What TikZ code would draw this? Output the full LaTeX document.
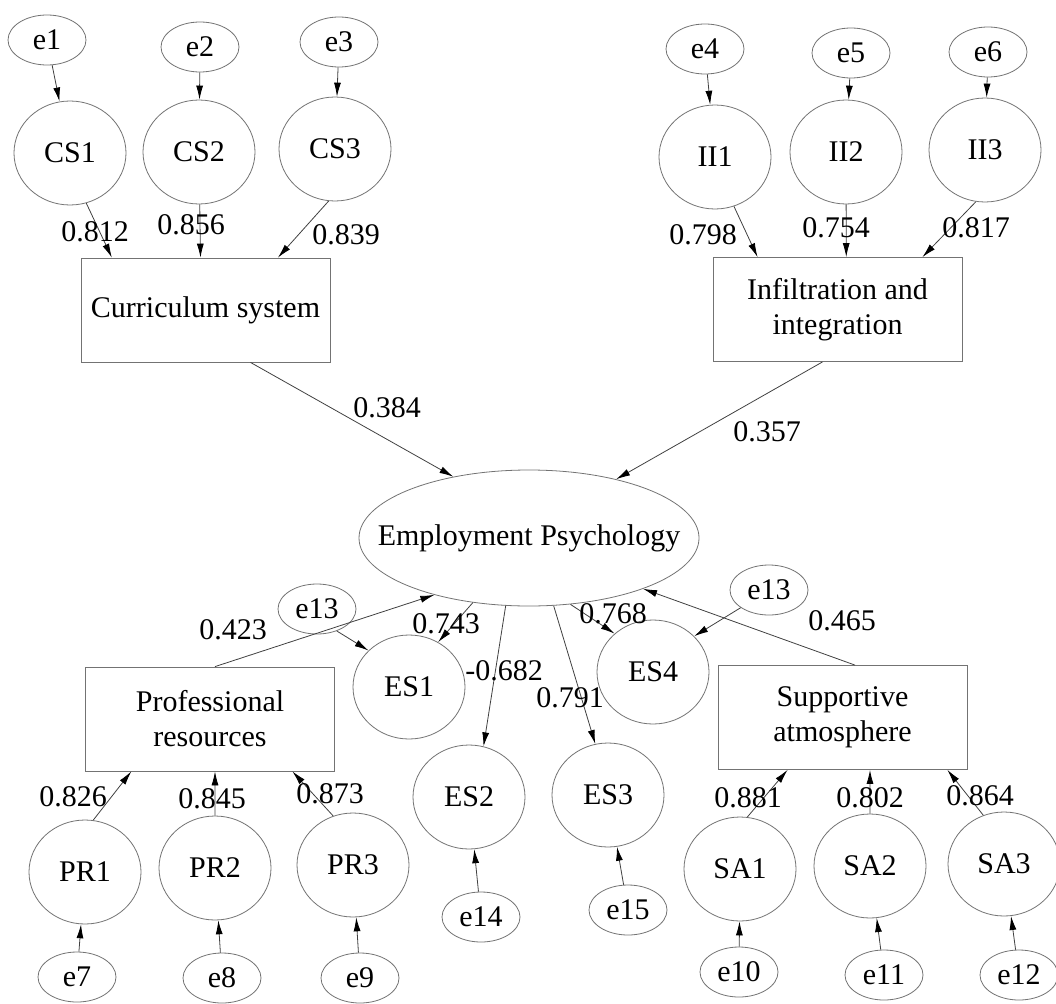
\documentclass[tikz,border=0pt]{standalone}
\usepackage{fontspec}
\setmainfont{Liberation Serif}
\usetikzlibrary{shapes.geometric,arrows.meta,calc}
\begin{document}
\begin{tikzpicture}[x=1pt,y=-1pt,
  every node/.style={font=\fontsize{30}{35}\selectfont},
  err/.style={ellipse,draw=black!55,line width=0.8pt,minimum width=78pt,minimum height=50pt,inner sep=0pt},
  obs/.style={ellipse,draw=black!55,line width=0.8pt,minimum width=112pt,minimum height=104pt,inner sep=0pt},
  lat/.style={rectangle,draw=black!55,line width=0.8pt,minimum width=249pt,minimum height=104pt,inner sep=0pt,align=center},
  mainlat/.style={ellipse,draw=black!55,line width=0.8pt,minimum width=340pt,minimum height=136pt,inner sep=0pt},
  arr/.style={draw=black!75,line width=0.8pt,-{Latex[length=14pt,width=7pt,color=black]}},
  lbl/.style={inner sep=0pt}
]
\useasboundingbox (0,0) rectangle (1056,1003);

% ---- top left
\node[err] (e1) at (47,40) {e1};
\node[err] (e2) at (200,47) {e2};
\node[err] (e3) at (339,42) {e3};
\node[obs] (cs1) at (70,153) {CS1};
\node[obs] (cs2) at (199,152) {CS2};
\node[obs] (cs3) at (335,149) {CS3};
\node[lat] (cs) at (205.5,310) {Curriculum system};

% ---- top right
\node[err] (e4) at (705,49) {e4};
\node[err] (e5) at (851,53) {e5};
\node[err] (e6) at (988,52) {e6};
\node[obs] (ii1) at (715,157) {II1};
\node[obs] (ii2) at (846,152) {II2};
\node[obs] (ii3) at (985,150) {II3};
\node[lat] (ii) at (837.5,309.5) {Infiltration and\\integration};

% ---- centre
\node[mainlat] (ep) at (529,538) {};
\node (eptext) at (ep) {Employment Psychology};

% ---- bottom left
\node[lat] (pr) at (210,719) {Professional\\resources};
\node[obs] (pr1) at (85,872) {PR1};
\node[obs] (pr2) at (215,868) {PR2};
\node[obs] (pr3) at (353,865) {PR3};
\node[err] (e7) at (77,977) {e7};
\node[err] (e8) at (222,978) {e8};
\node[err] (e9) at (360,978) {e9};

% ---- ES
\node[err] (e13a) at (317,609) {e13};
\node[err] (e13b) at (769,590) {e13};
\node[obs] (es1) at (409,687) {ES1};
\node[obs] (es2) at (469,797) {ES2};
\node[obs] (es3) at (608,795) {ES3};
\node[obs] (es4) at (653,672) {ES4};
\node[err] (e14) at (481,917) {e14};
\node[err] (e15) at (628,910) {e15};

% ---- bottom right
\node[lat] (sa) at (842.5,717.5) {Supportive\\atmosphere};
\node[obs] (sa1) at (740,869) {SA1};
\node[obs] (sa2) at (870,866) {SA2};
\node[obs] (sa3) at (1004,864) {SA3};
\node[err] (e10) at (739,972) {e10};
\node[err] (e11) at (884,975) {e11};
\node[err] (e12) at (1019,975) {e12};

% ---- connection points on boxes
\coordinate (cs-a) at ($(cs.north west)!0.125!(cs.north east)$);
\coordinate (cs-b) at ($(cs.north west)!0.48!(cs.north east)$);
\coordinate (cs-c) at ($(cs.north west)!0.79!(cs.north east)$);
\coordinate (cs-o) at ($(cs.south west)!0.68!(cs.south east)$);
\coordinate (ii-a) at ($(ii.north west)!0.18!(ii.north east)$);
\coordinate (ii-b) at ($(ii.north west)!0.535!(ii.north east)$);
\coordinate (ii-c) at ($(ii.north west)!0.84!(ii.north east)$);
\coordinate (ii-o) at ($(ii.south west)!0.44!(ii.south east)$);
\coordinate (pr-a) at ($(pr.south west)!0.185!(pr.south east)$);
\coordinate (pr-b) at ($(pr.south west)!0.52!(pr.south east)$);
\coordinate (pr-c) at ($(pr.south west)!0.83!(pr.south east)$);
\coordinate (pr-o) at ($(pr.north west)!0.52!(pr.north east)$);
\coordinate (sa-a) at ($(sa.south west)!0.28!(sa.south east)$);
\coordinate (sa-b) at ($(sa.south west)!0.61!(sa.south east)$);
\coordinate (sa-c) at ($(sa.south west)!0.92!(sa.south east)$);
\coordinate (sa-o) at ($(sa.north west)!0.55!(sa.north east)$);

% ---- arrows top left
\draw[arr] (e1) -- (cs1);
\draw[arr] (e2) -- (cs2);
\draw[arr] (e3) -- (cs3);
\draw[arr] (cs1.-72) -- (cs-a);
\draw[arr] (cs2) -- (cs-b);
\draw[arr] (cs3.-97) -- (cs-c);
% ---- arrows top right
\draw[arr] (e4) -- (ii1);
\draw[arr] (e5) -- (ii2);
\draw[arr] (e6) -- (ii3);
\draw[arr] (ii1.-69) -- (ii-a);
\draw[arr] (ii2) -- (ii-b);
\draw[arr] (ii3.-100) -- (ii-c);
% ---- into the centre
\draw[arr] (cs-o) -- (ep.141.6);
\draw[arr] (ii-o) -- (ep.34.9);
\draw[arr] (pr-o) -- (ep.-149.7);
\draw[arr] (sa-o) -- (ep.-24.5);
% ---- out of the centre
\draw[arr] (ep.-131) -- (es1.57.5);
\draw[arr] (ep.-109.7) -- (es2.74);
\draw[arr] (ep.-70.3) -- (es3.104);
\draw[arr] (ep.-58.5) -- (es4.135.7);
\draw[arr] (e13a.-48) -- (es1.138.6);
\draw[arr] (e13b.-148) -- (es4.41.6);
\draw[arr] (e14) -- (es2);
\draw[arr] (e15) -- (es3);
% ---- bottom left
\draw[arr] (pr1.81) -- (pr-a);
\draw[arr] (pr2) -- (pr-b);
\draw[arr] (pr3.112) -- (pr-c);
\draw[arr] (e7) -- (pr1);
\draw[arr] (e8) -- (pr2);
\draw[arr] (e9) -- (pr3);
% ---- bottom right
\draw[arr] (sa1.82) -- (sa-a);
\draw[arr] (sa2) -- (sa-b);
\draw[arr] (sa3.113) -- (sa-c);
\draw[arr] (e10) -- (sa1);
\draw[arr] (e11) -- (sa2);
\draw[arr] (e12) -- (sa3);

% ---- labels
\node[lbl] (l1) at (95,232) {0.812};
\node[lbl] (l2) at (191,225) {0.856};
\node[lbl] (l3) at (346,235) {0.839};
\node[lbl] (l4) at (703,235) {0.798};
\node[lbl] (l5) at (836,228) {0.754};
\node[lbl] (l6) at (976,228) {0.817};
\node[lbl] (l7) at (387,408) {0.384};
\node[lbl] (l8) at (767,432) {0.357};
\node[lbl] (l9) at (233,630) {0.423};
\node[lbl] (l10) at (446,624) {0.743};
\node[lbl] (l11) at (504,671) {-0.682};
\node[lbl] (l12) at (570,698) {0.791};
\node[lbl] (l13) at (613,614) {0.768};
\node[lbl] (l14) at (842,621) {0.465};
\node[lbl] (l15) at (73,797) {0.826};
\node[lbl] (l16) at (212,799) {0.845};
\node[lbl] (l17) at (330,794) {0.873};
\node[lbl] (l18) at (748,798) {0.881};
\node[lbl] (l19) at (870,798) {0.802};
\node[lbl] (l20) at (980,796) {0.864};
\end{tikzpicture}
\end{document}
